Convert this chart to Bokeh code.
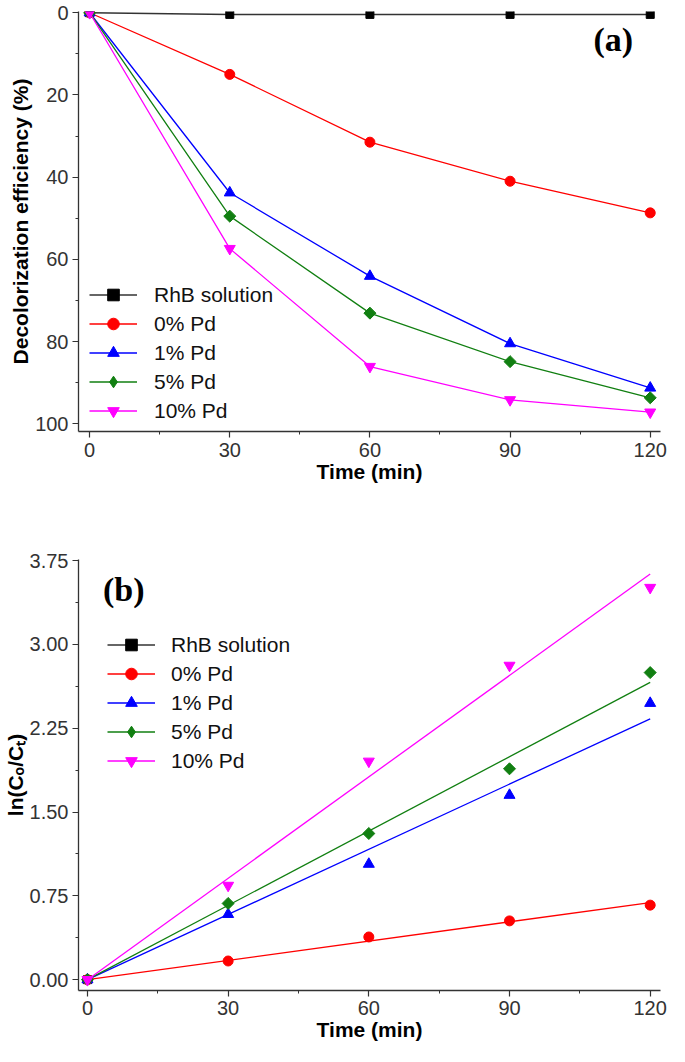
import numpy as np
from bokeh.plotting import figure
from bokeh.models import Range1d, FixedTicker, Label, Legend, LegendItem
from bokeh.layouts import column
from bokeh.embed import file_html
from bokeh.resources import INLINE

# ---------------- data ----------------
series = ["RhB solution", "0% Pd", "1% Pd", "5% Pd", "10% Pd"]
colors = ["#000000", "#ff0000", "#0000ff", "#117f11", "#ff00ff"]
markers = ["square", "circle", "triangle", "square", "inverted_triangle"]
legend_markers = ["square", "circle", "triangle", "diamond", "inverted_triangle"]
marker_angles = [0.0, 0.0, 0.0, np.pi / 4, 0.0]
marker_sizes = [8, 10, 11, 8.5, 11]
legend_sizes = [8, 10, 11, 13, 11]

time_min = [0, 30, 60, 90, 120]
eff_rhb = [0, 0.4, 0.4, 0.4, 0.4]
eff_0 = [0, 15.0, 31.5, 41.0, 48.7]
eff_1 = [0, 43.8, 64.1, 80.5, 91.3]
eff_5 = [0, 49.5, 73.1, 84.9, 93.7]
eff_10 = [0, 57.4, 86.1, 94.2, 97.2]

ln_time_rhb = [0]
ln_rhb = [0.0]
ln_0 = [0, 0.167, 0.382, 0.526, 0.667]
ln_1 = [0, 0.585, 1.034, 1.651, 2.474]
ln_5 = [0, 0.682, 1.308, 1.887, 2.748]
ln_10 = [0, 0.843, 1.954, 2.812, 3.509]

x_ticks = [0, 30, 60, 90, 120]
x_minor = [15, 45, 75, 105]
a_y_ticks = [0, 20, 40, 60, 80, 100]
a_y_minor = [10, 30, 50, 70, 90]
b_y_ticks = [0.0, 0.75, 1.5, 2.25, 3.0, 3.75]
b_y_labels = ["0.00", "0.75", "1.50", "2.25", "3.00", "3.75"]
b_y_minor = [0.375, 1.125, 1.875, 2.625, 3.375]

FONT = "Liberation Sans"


def style(p):
    p.grid.visible = False
    p.outline_line_color = None
    p.background_fill_color = "white"
    p.border_fill_color = "white"
    for ax in p.axis:
        ax.axis_line_color = "#333333"
        ax.axis_line_width = 1.3
        ax.major_tick_line_color = "#333333"
        ax.minor_tick_line_color = "#333333"
        ax.major_tick_line_width = 1.2
        ax.minor_tick_line_width = 1.0
        ax.major_tick_in = 0
        ax.major_tick_out = 6
        ax.minor_tick_in = 0
        ax.minor_tick_out = 3
        ax.major_label_text_font = FONT
        ax.major_label_text_font_size = "20px"
        ax.major_label_text_color = "#333333"
        ax.axis_label_text_font = FONT
        ax.axis_label_text_font_style = "bold"
        ax.axis_label_text_font_size = "21px"
        ax.axis_label_text_color = "#000000"
        ax.axis_label_standoff = 0
    p.xaxis.major_label_standoff = 5
    p.yaxis.major_label_standoff = 4


def legend_style(leg):
    leg.padding = 0
    leg.margin = 0
    leg.spacing = 0
    leg.border_line_alpha = 0
    leg.background_fill_alpha = 0
    leg.glyph_width = 48
    leg.glyph_height = 29
    leg.label_height = 29
    leg.label_standoff = 17
    leg.label_text_font = FONT
    leg.label_text_font_size = "21px"
    leg.label_text_color = "#111111"
    leg.label_text_baseline = "middle"


def legend_marker(p, m, s, c):
    # invisible stand-in used only to draw the legend symbol
    return p.scatter([np.nan], [np.nan], marker=m, size=s, fill_color=c, line_color=c)


# ---------------- panel (a) ----------------
p1 = figure(width=669, height=500, output_backend="svg", toolbar_location=None,
            x_range=Range1d(-2.38, 122.2), y_range=Range1d(101.9, -0.3),
            min_border_left=68, min_border_right=9, min_border_top=11, min_border_bottom=69)
style(p1)
p1.xaxis.ticker = FixedTicker(ticks=x_ticks, minor_ticks=x_minor)
p1.yaxis.ticker = FixedTicker(ticks=a_y_ticks, minor_ticks=a_y_minor)
p1.xaxis.axis_label = "Time (min)"
p1.yaxis.axis_label = "Decolorization efficiency (%)"

items = []
for name, ys, c, m, s, a, lm, ls in zip(series, [eff_rhb, eff_0, eff_1, eff_5, eff_10],
                                        colors, markers, marker_sizes, marker_angles,
                                        legend_markers, legend_sizes):
    lw = 1.5 if c == "#000000" else 1.3
    lc = "#333333" if c == "#000000" else c
    lr = p1.line(time_min, ys, line_color=lc, line_width=lw)
    p1.scatter(time_min, ys, marker=m, size=s, angle=a, fill_color=c, line_color=c)
    items.append(LegendItem(label=name, renderers=[lr, legend_marker(p1, lm, ls, c)]))
leg1 = Legend(items=items, location=(11, 6))
legend_style(leg1)
p1.add_layout(leg1)
p1.add_layout(Label(x=112.1, y=6.5, text="(a)", text_font="Liberation Serif",
                    text_font_style="bold", text_font_size="34px", text_color="#000000",
                    text_align="center", text_baseline="middle"))

# ---------------- panel (b) ----------------
p2 = figure(width=669, height=546, output_backend="svg", toolbar_location=None,
            x_range=Range1d(-1.91, 122.2), y_range=Range1d(-0.097, 3.76),
            min_border_left=76, min_border_right=2, min_border_top=59, min_border_bottom=56)
style(p2)
p2.xaxis.major_label_standoff = 4
p2.xaxis.ticker = FixedTicker(ticks=x_ticks, minor_ticks=x_minor)
p2.yaxis.ticker = FixedTicker(ticks=b_y_ticks, minor_ticks=b_y_minor)
p2.yaxis.major_label_overrides = {t: l for t, l in zip(b_y_ticks, b_y_labels)}
p2.xaxis.axis_label = "Time (min)"
p2.yaxis.axis_label = "ln(C\u2092/C\u209c)"

items2 = []
t_arr = np.array(time_min, dtype=float)
for name, ys, c, m, s, a, lm, ls in zip(series, [ln_rhb, ln_0, ln_1, ln_5, ln_10],
                                        colors, markers, marker_sizes, marker_angles,
                                        legend_markers, legend_sizes):
    lc = "#333333" if c == "#000000" else c
    if name == "RhB solution":
        lr = p2.line(ln_time_rhb, ys, line_color=lc, line_width=1.5)
        p2.scatter(ln_time_rhb, ys, marker=m, size=s, angle=a, fill_color=c, line_color=c)
    else:
        y_arr = np.array(ys, dtype=float)
        k = float(np.sum(t_arr * y_arr) / np.sum(t_arr * t_arr))
        fx = [time_min[0], time_min[-1]]
        lr = p2.line(fx, [k * v for v in fx], line_color=lc, line_width=1.3)
        p2.scatter(time_min, ys, marker=m, size=s, angle=a, fill_color=c, line_color=c)
    items2.append(LegendItem(label=name, renderers=[lr, legend_marker(p2, lm, ls, c)]))
leg2 = Legend(items=items2, location=(29, 215))
legend_style(leg2)
leg2.label_standoff = 16
p2.add_layout(leg2)
p2.add_layout(Label(x=7.75, y=3.49, text="(b)", text_font="Liberation Serif",
                    text_font_style="bold", text_font_size="34px", text_color="#000000",
                    text_align="center", text_baseline="middle"))

layout = column(p1, p2)
open("out.html", "w").write(file_html(layout, INLINE))
